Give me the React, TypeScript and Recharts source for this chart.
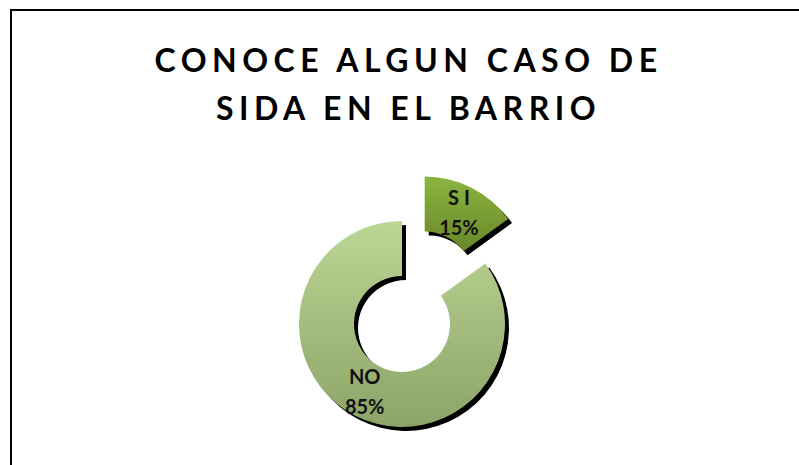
import React from 'react';
import { PieChart, Pie, Cell } from 'recharts';

const categories = ['SI', 'NO'];
const values = [15, 85];
const percentLabels = ['15%', '85%'];
const titleLines = ['CONOCE ALGUN CASO DE', 'SIDA EN EL BARRIO'];

const data = categories.map((name, i) => ({ name, value: values[i], pct: percentLabels[i] }));

const RADIAN = Math.PI / 180;
const CX = 397;
const CY = 319;
const INNER = 48;
const OUTER = 103;
const EXPLODE = 50;
const SHADOW = 4;
const START = 90;
const END = -270;

const total = values.reduce((a, b) => a + b, 0);
const siMid = START - ((values[0] / total) * 360) / 2;
const siCx = CX + EXPLODE * Math.cos(siMid * RADIAN);
const siCy = CY - EXPLODE * Math.sin(siMid * RADIAN);

const makeLabel = (visibleIndex: number) => (props: any) => {
  const { cx, cy, midAngle, innerRadius, outerRadius, index } = props;
  if (index !== visibleIndex) return null;
  const r = (innerRadius + outerRadius) / 2;
  const x = cx + r * Math.cos(-midAngle * RADIAN) - (index === 1 ? 3 : 0);
  const y = cy + r * Math.sin(-midAngle * RADIAN);
  const d = data[index];
  const nameText = d.name === 'SI' ? 'S I' : d.name;
  return (
    <text
      x={x}
      y={y}
      textAnchor="middle"
      fill="#111"
      style={{ fontFamily: 'Lato, sans-serif', fontWeight: 700, fontSize: 20 }}
    >
      <tspan x={x} dy={-7}>{nameText}</tspan>
      <tspan x={x} dy={30}>{d.pct}</tspan>
    </text>
  );
};

export default function App() {
  return (
    <div
      style={{
        position: 'fixed',
        left: 0,
        top: 0,
        width: 799,
        height: 465,
        overflow: 'hidden',
        background: '#fff',
      }}
    >
      <div
        style={{
          position: 'absolute',
          left: 10,
          top: 9,
          width: 820,
          height: 500,
          borderTop: '2px solid #000',
          borderLeft: '2px solid #000',
        }}
      />
      {titleLines.map((t, i) => (
        <div
          key={i}
          style={{
            position: 'absolute',
            left: 0,
            width: 806,
            top: i === 0 ? 40 : 88,
            textAlign: 'center',
            fontFamily: 'Lato, sans-serif',
            fontWeight: 700,
            fontSize: 32,
            letterSpacing: 5.5,
            paddingLeft: 5.5,
            lineHeight: '40px',
            color: '#000',
            whiteSpace: 'pre',
          }}
        >
          {t}
        </div>
      ))}
      <div style={{ position: 'absolute', left: 0, top: 0 }}>
        <PieChart width={799} height={465}>
          <defs>
            <linearGradient id="gradNo" x1="0" y1="0" x2="0" y2="1">
              <stop offset="0%" stopColor="#bcd694" />
              <stop offset="100%" stopColor="#8ca468" />
            </linearGradient>
            <linearGradient id="gradSi" x1="0" y1="0" x2="0" y2="1">
              <stop offset="0%" stopColor="#8cb53f" />
              <stop offset="100%" stopColor="#67872a" />
            </linearGradient>
          </defs>
          <Pie
            data={data}
            dataKey="value"
            cx={CX + SHADOW}
            cy={CY + SHADOW}
            innerRadius={INNER}
            outerRadius={OUTER}
            startAngle={START}
            endAngle={END}
            stroke="none"
            isAnimationActive={false}
          >
            {data.map((d, i) => (
              <Cell key={i} fill={i === 1 ? '#000' : 'transparent'} />
            ))}
          </Pie>
          <Pie
            data={data}
            dataKey="value"
            cx={siCx + SHADOW}
            cy={siCy + SHADOW}
            innerRadius={INNER}
            outerRadius={OUTER}
            startAngle={START}
            endAngle={END}
            stroke="none"
            isAnimationActive={false}
          >
            {data.map((d, i) => (
              <Cell key={i} fill={i === 0 ? '#000' : 'transparent'} />
            ))}
          </Pie>
          <Pie
            data={data}
            dataKey="value"
            cx={CX}
            cy={CY}
            innerRadius={INNER}
            outerRadius={OUTER}
            startAngle={START}
            endAngle={END}
            stroke="none"
            isAnimationActive={false}
            labelLine={false}
            label={makeLabel(1)}
          >
            {data.map((d, i) => (
              <Cell key={i} fill={i === 1 ? 'url(#gradNo)' : 'transparent'} />
            ))}
          </Pie>
          <Pie
            data={data}
            dataKey="value"
            cx={siCx}
            cy={siCy}
            innerRadius={INNER}
            outerRadius={OUTER}
            startAngle={START}
            endAngle={END}
            stroke="none"
            isAnimationActive={false}
            labelLine={false}
            label={makeLabel(0)}
          >
            {data.map((d, i) => (
              <Cell key={i} fill={i === 0 ? 'url(#gradSi)' : 'transparent'} />
            ))}
          </Pie>
        </PieChart>
      </div>
    </div>
  );
}
